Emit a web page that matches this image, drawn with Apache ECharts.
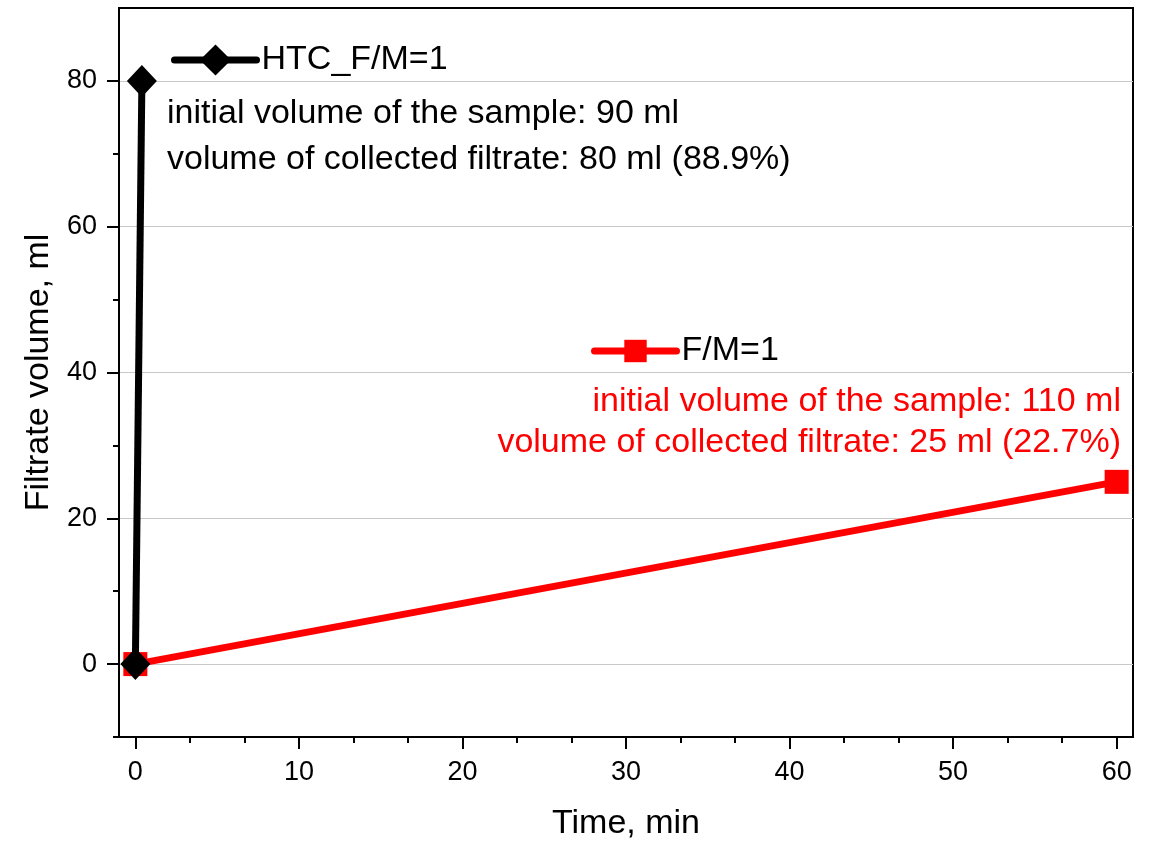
<!DOCTYPE html>
<html>
<head>
<meta charset="utf-8">
<script src="https://cdn.jsdelivr.net/npm/echarts@6/dist/echarts.min.js"></script>
<style>
    html, body { margin: 0; padding: 0; background: #fff; }
    #chart { width: 1150px; height: 841px; }
</style>
</head>
<body>
<div id="chart"></div>
<script>
    // data
    var htcData = [[0, 0], [0.4, 80]];
    var fmData = [[0, 0], [60, 25]];
    var xMajor = [0, 10, 20, 30, 40, 50, 60];
    var xMinor = [3.333, 6.667, 13.333, 16.667, 23.333, 26.667, 33.333, 36.667, 43.333, 46.667, 53.333, 56.667];
    var yMajor = [0, 20, 40, 60, 80];
    var yMinor = [-10, 10, 30, 50, 70];
    var htcNotes = ['initial volume of the sample: 90 ml', 'volume of collected filtrate: 80 ml (88.9%)'];
    var fmNotes = ['initial volume of the sample: 110 ml', 'volume of collected filtrate: 25 ml (22.7%)'];

    var font = 'Liberation Sans, Arial, sans-serif';
    var mychart = echarts.init(document.getElementById('chart'));

    var option = {
        animation: false,
        grid: {
            left: 119, top: 8, width: 1014, height: 729,
            outerBoundsMode: 'none', containLabel: false,
            show: true, borderColor: '#000', borderWidth: 2, backgroundColor: 'transparent'
        },
        legend: [
            {
                data: ['HTC_F/M=1'], left: 166, top: 38,
                itemWidth: 82, itemHeight: 39,
                lineStyle: { width: 7, cap: 'round' },
                textStyle: { fontSize: 34, fontFamily: font, color: '#000' }
            },
            {
                data: ['F/M=1'], left: 586, top: 329,
                itemWidth: 82, itemHeight: 28,
                lineStyle: { width: 7, cap: 'round' },
                textStyle: { fontSize: 34, fontFamily: font, color: '#000' }
            }
        ],
        xAxis: [
            {
                type: 'value', min: -1, max: 61, position: 'bottom',
                name: 'Time, min', nameLocation: 'middle', nameGap: 70,
                nameTextStyle: { fontSize: 34, fontFamily: font, color: '#000' },
                axisLine: { show: true, onZero: false, lineStyle: { color: '#000', width: 2 } },
                axisTick: { show: true, customValues: xMajor, length: 12, lineStyle: { color: '#000', width: 2 } },
                axisLabel: { customValues: xMajor, margin: 22, fontSize: 27, fontFamily: font, color: '#000' },
                splitLine: { show: false }
            },
            {
                type: 'value', min: -1, max: 61, position: 'bottom',
                axisLine: { show: false, onZero: false },
                axisTick: { show: true, customValues: xMinor, length: 6, lineStyle: { color: '#000', width: 2 } },
                axisLabel: { show: false },
                splitLine: { show: false }
            }
        ],
        yAxis: [
            {
                type: 'value', min: -10, max: 90, splitNumber: 5, position: 'left',
                name: 'Filtrate volume, ml', nameLocation: 'middle', nameGap: 59, nameRotate: 90,
                nameTextStyle: { fontSize: 34, fontFamily: font, color: '#000' },
                axisLine: { show: true, onZero: false, lineStyle: { color: '#000', width: 2 } },
                axisTick: { show: true, customValues: yMajor, length: 12, lineStyle: { color: '#000', width: 2 } },
                axisLabel: { customValues: yMajor, margin: 22, fontSize: 27, fontFamily: font, color: '#000' },
                splitLine: { show: true, lineStyle: { color: '#c8c8c8', width: 1 } }
            },
            {
                type: 'value', min: -10, max: 90, position: 'left',
                axisLine: { show: false, onZero: false },
                axisTick: { show: true, customValues: yMinor, length: 6, lineStyle: { color: '#000', width: 2 } },
                axisLabel: { show: false },
                splitLine: { show: false }
            }
        ],
        series: [
            {
                name: 'F/M=1', type: 'line', data: fmData,
                symbol: 'rect', symbolSize: 24,
                itemStyle: { color: '#ff0000' },
                lineStyle: { color: '#ff0000', width: 7 }
            },
            {
                name: 'HTC_F/M=1', type: 'line', data: htcData,
                symbol: 'diamond', symbolSize: [30, 32],
                itemStyle: { color: '#000' },
                lineStyle: { color: '#000', width: 7 }
            }
        ],
        graphic: [
            { type: 'text', left: 167, top: 97, style: { text: htcNotes[0], fontSize: 34, fontFamily: font, fill: '#000' } },
            { type: 'text', left: 167, top: 143, style: { text: htcNotes[1], fontSize: 34, fontFamily: font, fill: '#000' } },
            { type: 'text', right: 29, top: 385, style: { text: fmNotes[0], fontSize: 34, fontFamily: font, fill: '#ff0000' } },
            { type: 'text', right: 29, top: 426, style: { text: fmNotes[1], fontSize: 34, fontFamily: font, fill: '#ff0000' } }
        ]
    };
    mychart.setOption(option);
</script>
</body>
</html>
